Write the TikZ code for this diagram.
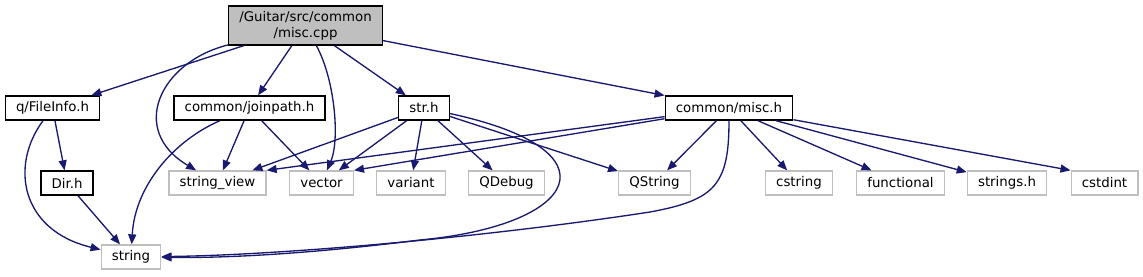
\documentclass[tikz,border=0pt]{standalone}
\usepackage{fontspec}
\setmainfont{DejaVu Sans}
\usetikzlibrary{arrows.meta}

\definecolor{edgeblue}{HTML}{191970}
\definecolor{sysgray}{HTML}{BFBFBF}

\begin{document}
\begin{tikzpicture}[
  x=0.75pt, y=-0.75pt,
  hdr/.style={draw=black, line width=1pt, fill=white, inner xsep=8pt, inner ysep=2pt, minimum height=18pt, font=\fontsize{10}{12}\selectfont},
  sys/.style={hdr, draw=sysgray},
  root/.style={hdr, fill=sysgray, align=center, minimum height=29.25pt, minimum width=113.25pt},
  arr/.style={-{Triangle[length=7.5pt, width=6pt]}, line width=1pt, draw=edgeblue}
]
\useasboundingbox (0,0) rectangle (1143,276);
% top row
\node[root] (maincpp) at (305.5,25.5) {/Guitar/src/common\\/misc.cpp};
% project headers
\node[hdr] (fileinfo) at (52.5,108) {q/FileInfo.h};
\node[hdr] (joinpath) at (249.5,108) {common/joinpath.h};
\node[hdr] (strh) at (424,108) {str.h};
\node[hdr] (misch) at (729,108) {common/misc.h};
\node[hdr] (dirh) at (67,183) {Dir.h};
% system headers
\node[sys] (strview) at (217.5,183) {string\_view};
\node[sys] (vect) at (321.5,183) {vector};
\node[sys] (variant) at (411,183) {variant};
\node[sys] (qdebug) at (506.5,183) {QDebug};
\node[sys] (qstring) at (654.5,183) {QString};
\node[sys] (cstring) at (799,183) {cstring};
\node[sys] (functional) at (900.5,183) {functional};
\node[sys] (stringsh) at (1007,183) {strings.h};
\node[sys] (cstdint) at (1104.5,183) {cstdint};
\node[sys] (stdstring) at (131,257) {string};
% misc.cpp includes
\draw[arr] (maincpp) -- (fileinfo);
\draw[arr] (maincpp) .. controls (160,62) and (128,130) .. (strview);
\draw[arr] (maincpp) -- (joinpath);
\draw[arr] (maincpp) .. controls (335,80) and (340,140) .. (vect);
\draw[arr] (maincpp) -- (strh);
\draw[arr] (maincpp) -- (misch);
% q/FileInfo.h and Dir.h
\draw[arr] (fileinfo) -- (dirh);
\draw[arr] (fileinfo) .. controls (10,165) and (20,230) .. (stdstring);
\draw[arr] (dirh) -- (stdstring);
% common/joinpath.h
\draw[arr] (joinpath) .. controls (175,140) and (135,185) .. (stdstring);
\draw[arr] (joinpath) -- (strview);
\draw[arr] (joinpath) -- (vect);
% str.h
\draw[arr] (strh) -- (strview);
\draw[arr] (strh) -- (vect);
\draw[arr] (strh) -- (variant);
\draw[arr] (strh) -- (qdebug);
\draw[arr] (strh) -- (qstring);
\draw[arr] (strh) .. controls (620,150) and (580,225) .. (420,240) .. controls (300,255) and (220,258) .. (stdstring);
% common/misc.h
\draw[arr] (misch) -- (strview.north east);
\draw[arr] (misch) -- (vect.north east);
\draw[arr] (misch) -- (qstring);
\draw[arr] (misch) .. controls (729,185) and (715,200) .. (650,212) .. controls (480,238) and (280,255) .. (stdstring);
\draw[arr] (misch) -- (cstring);
\draw[arr] (misch) -- (functional);
\draw[arr] (misch) -- (stringsh);
\draw[arr] (misch) -- (cstdint.north west);
\end{tikzpicture}
\end{document}
